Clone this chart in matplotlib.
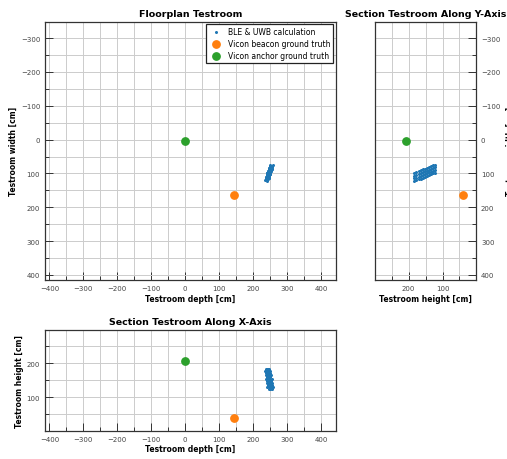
import matplotlib
matplotlib.use("Agg")
import matplotlib.pyplot as plt
from matplotlib.ticker import MultipleLocator

# Ground-truth positions [cm]: (depth, width, height)
anchor_depth = [0]
anchor_width = [5]
anchor_height = [208]

beacon_depth = [145]
beacon_width = [165]
beacon_height = [39]

# BLE & UWB position estimates [cm]
ble_height = [123, 123, 123, 123,
              129, 129, 129, 129,
              135, 135, 135, 135,
              141, 141, 141, 141,
              147, 147, 147, 147,
              153, 153, 153, 153,
              159, 159, 159, 159,
              165, 165, 165, 165,
              171, 171, 171, 171,
              177, 177, 177, 177,
              183, 183, 183, 183]
ble_width = [98, 90, 82, 74,
             100, 92, 84, 76,
             103, 95, 87, 79,
             105, 97, 89, 81,
             108, 100, 92, 84,
             110, 102, 94, 86,
             112, 104, 96, 88,
             115, 107, 99, 91,
             117, 109, 101, 93,
             120, 112, 104, 96,
             122, 114, 106, 98]
ble_depth = [251, 246, 257, 251,
             242, 253, 248, 259,
             249, 244, 255, 250,
             240, 251, 246, 257,
             247, 242, 253, 248,
             238, 249, 244, 255,
             246, 241, 251, 246,
             237, 248, 242, 253,
             244, 239, 250, 245,
             235, 246, 241, 251,
             242, 237, 248, 243]

C_BLE = "#1f77b4"
C_BEACON = "#ff7f0e"
C_ANCHOR = "#2ca02c"

plt.rcParams["font.family"] = "DejaVu Sans"

fig = plt.figure(figsize=(5.07, 4.60), dpi=100)

ax_top = fig.add_axes([0.0888, 0.389, 0.573, 0.562])
ax_side = fig.add_axes([0.740, 0.389, 0.199, 0.562])
ax_front = fig.add_axes([0.0888, 0.0615, 0.573, 0.220])

depth_lim = (-413, 443)
width_lim = (415, -349)
height_lim_side = (299, 1)
height_lim_front = (2, 299)

def style(ax):
    ax.xaxis.set_major_locator(MultipleLocator(100))
    ax.xaxis.set_minor_locator(MultipleLocator(50))
    ax.yaxis.set_major_locator(MultipleLocator(100))
    ax.yaxis.set_minor_locator(MultipleLocator(50))
    ax.grid(True, which="both", color="#cccccc", linewidth=0.7)
    ax.set_axisbelow(True)
    ax.tick_params(which="both", direction="in", labelsize=5, colors="#333333",
                   labelcolor="#444444", width=0.7)
    ax.tick_params(which="major", length=6)
    ax.tick_params(which="minor", length=3)
    for s in ax.spines.values():
        s.set_color("#333333")
        s.set_linewidth(0.9)

lab = dict(fontsize=5.5, fontweight="bold")
ttl = dict(fontsize=6.8, fontweight="bold")

# Floorplan: depth vs width
ax_top.scatter(ble_depth, ble_width, s=1.4, color=C_BLE, label="BLE & UWB calculation", zorder=3)
ax_top.scatter(beacon_depth, beacon_width, s=28, color=C_BEACON, label="Vicon beacon ground truth", zorder=3)
ax_top.scatter(anchor_depth, anchor_width, s=28, color=C_ANCHOR, label="Vicon anchor ground truth", zorder=3)
ax_top.set_xlim(*depth_lim)
ax_top.set_ylim(*width_lim)
style(ax_top)
ax_top.set_title("Floorplan Testroom", pad=4, **ttl)
ax_top.set_xlabel("Testroom depth [cm]", labelpad=2, **lab)
ax_top.set_ylabel("Testroom width [cm]", labelpad=2, **lab)
leg = ax_top.legend(loc="upper right", fontsize=5.5, fancybox=False, framealpha=1,
                    edgecolor="#222222", borderpad=0.4, handletextpad=0.5,
                    labelspacing=0.4, borderaxespad=0.3, markerscale=1.0)
leg.get_frame().set_linewidth(0.9)

# Section along Y: height vs width
ax_side.scatter(ble_height, ble_width, s=1.4, color=C_BLE, zorder=3)
ax_side.scatter(beacon_height, beacon_width, s=28, color=C_BEACON, zorder=3)
ax_side.scatter(anchor_height, anchor_width, s=28, color=C_ANCHOR, zorder=3)
ax_side.set_xlim(*height_lim_side)
ax_side.set_ylim(*width_lim)
style(ax_side)
ax_side.yaxis.tick_right()
ax_side.yaxis.set_label_position("right")
ax_side.tick_params(which="both", left=False, right=True)
ax_side.set_title("Section Testroom Along Y-Axis", pad=4, **ttl)
ax_side.set_xlabel("Testroom height [cm]", labelpad=2, **lab)
ax_side.set_ylabel("Testroom width [cm]", labelpad=4, **lab)

# Section along X: depth vs height
ax_front.scatter(ble_depth, ble_height, s=1.4, color=C_BLE, zorder=3)
ax_front.scatter(beacon_depth, beacon_height, s=28, color=C_BEACON, zorder=3)
ax_front.scatter(anchor_depth, anchor_height, s=28, color=C_ANCHOR, zorder=3)
ax_front.set_xlim(*depth_lim)
ax_front.set_ylim(*height_lim_front)
style(ax_front)
ax_front.set_title("Section Testroom Along X-Axis", pad=4, **ttl)
ax_front.set_xlabel("Testroom depth [cm]", labelpad=2, **lab)
ax_front.set_ylabel("Testroom height [cm]", labelpad=2, **lab)

fig.savefig("out.png", dpi=100)
